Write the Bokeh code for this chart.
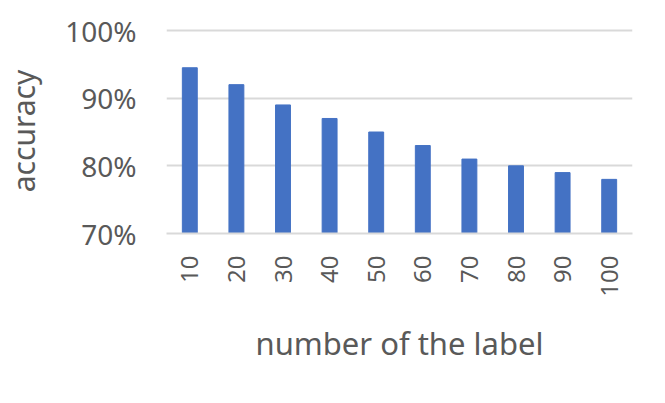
from bokeh.plotting import figure
from bokeh.models import FactorRange, Range1d, FixedTicker, NumeralTickFormatter
from bokeh.embed import file_html
from bokeh.resources import INLINE
import math

categories = ["10", "20", "30", "40", "50", "60", "70", "80", "90", "100"]
accuracy = [0.945, 0.92, 0.89, 0.87, 0.85, 0.83, 0.81, 0.80, 0.79, 0.78]
y_ticks = [0.7, 0.8, 0.9, 1.0]

FONT = "Noto Sans"
TXT = "#595959"
GRID = "#D9D9D9"

p = figure(x_range=FactorRange(*categories, range_padding=0),
           y_range=Range1d(0.7, 1.003),
           width=649, height=387, output_backend="svg", toolbar_location=None,
           min_border_left=165, min_border_right=17, min_border_top=28,
           min_border_bottom=154)
p.outline_line_color = None

p.vbar(x=categories, top=accuracy, bottom=0.7, width=0.32, color="#4472C4")

p.xgrid.grid_line_color = None
p.ygrid.grid_line_color = GRID
p.ygrid.grid_line_width = 2
p.ygrid.ticker = FixedTicker(ticks=y_ticks)

p.yaxis.ticker = FixedTicker(ticks=y_ticks)
p.yaxis.formatter = NumeralTickFormatter(format="0%")
p.yaxis.axis_line_color = None
p.yaxis.major_tick_line_color = None
p.yaxis.minor_tick_line_color = None
p.yaxis.major_tick_out = 0
p.yaxis.major_label_standoff = 30
p.yaxis.major_label_text_font = FONT
p.yaxis.major_label_text_font_size = "28px"
p.yaxis.major_label_text_color = TXT
p.yaxis.axis_label = "accuracy"
p.yaxis.axis_label_text_font = FONT
p.yaxis.axis_label_text_font_size = "30px"
p.yaxis.axis_label_text_font_style = "normal"
p.yaxis.axis_label_text_color = TXT
p.yaxis.axis_label_standoff = 18

p.xaxis.axis_line_color = GRID
p.xaxis.axis_line_width = 2
p.xaxis.major_tick_line_color = None
p.xaxis.minor_tick_line_color = None
p.xaxis.major_tick_out = 0
p.xaxis.major_label_orientation = math.pi / 2
p.xaxis.major_label_standoff = 22
p.xaxis.major_label_text_font = FONT
p.xaxis.major_label_text_font_size = "24px"
p.xaxis.major_label_text_color = TXT
p.xaxis.axis_label = "number of the label"
p.xaxis.axis_label_text_font = FONT
p.xaxis.axis_label_text_font_size = "31px"
p.xaxis.axis_label_text_font_style = "normal"
p.xaxis.axis_label_text_color = TXT
p.xaxis.axis_label_standoff = 22

open("out.html", "w").write(file_html(p, INLINE))
